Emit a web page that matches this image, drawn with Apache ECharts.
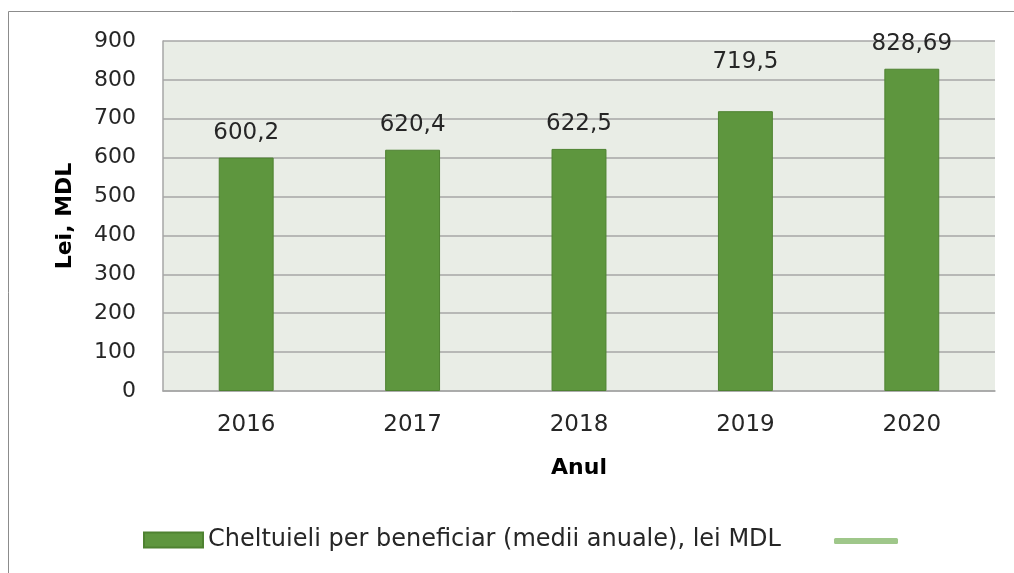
<!DOCTYPE html>
<html>
<head>
<meta charset="utf-8">
<script src="https://cdn.jsdelivr.net/npm/echarts@6/dist/echarts.min.js"></script>
<style>
  html, body { margin: 0; padding: 0; background: #fff; }
  #chart { width: 1014px; height: 573px; }
</style>
</head>
<body>
<div id="chart"></div>
<script>
// date
var years = ['2016', '2017', '2018', '2019', '2020'];
var valori = [600.2, 620.4, 622.5, 719.5, 828.69];
var yTicks = [0, 100, 200, 300, 400, 500, 600, 700, 800, 900];
var numeSerie = 'Cheltuieli per beneficiar (medii anuale), lei MDL';

var font = 'DejaVu Sans';
var textColor = '#262626';

var myChart = echarts.init(document.getElementById('chart'));

// eticheta pentru 2019 sta mai sus in original
var barData = valori.map(function (v, i) {
  var item = { value: v };
  if (i === 3) item.label = { distance: 38 };
  return item;
});

var option = {
  animation: false,
  backgroundColor: '#fff',
  graphic: [
    {
      type: 'rect',
      shape: { x: 8.5, y: 11.5, width: 1020, height: 600 },
      style: { fill: 'none', stroke: '#8c8c8c', lineWidth: 1 },
      silent: true
    }
  ],
  grid: {
    left: 163,
    top: 41,
    right: 19,
    bottom: 182,
    show: true,
    backgroundColor: '#e9ede6',
    borderWidth: 0
  },
  legend: [
    {
      data: [numeSerie],
      left: 138,
      top: 523,
      itemWidth: 59,
      itemHeight: 15,
      itemGap: 6,
      icon: 'rect',
      textStyle: { fontFamily: font, fontSize: 24, color: textColor }
    },
    {
      data: [{ name: ' ', icon: 'roundRect' }],
      left: 829,
      top: 524,
      itemWidth: 64,
      itemHeight: 6,
      textStyle: { fontFamily: font, fontSize: 24, color: textColor }
    }
  ],
  xAxis: {
    type: 'category',
    data: years,
    name: 'Anul',
    nameLocation: 'middle',
    nameGap: 66,
    nameTextStyle: { fontFamily: font, fontSize: 22, fontWeight: 'bold', color: '#000' },
    axisLine: { lineStyle: { color: '#a6a6a6', width: 1.5 } },
    axisTick: { show: false },
    axisLabel: { fontFamily: font, fontSize: 23, color: textColor, margin: 23 }
  },
  yAxis: {
    type: 'value',
    min: yTicks[0],
    max: yTicks[yTicks.length - 1],
    interval: 100,
    name: 'Lei, MDL',
    nameLocation: 'middle',
    nameGap: 87,
    nameRotate: 90,
    nameTextStyle: { fontFamily: font, fontSize: 22, fontWeight: 'bold', color: '#000' },
    axisLine: { show: true, lineStyle: { color: '#a6a6a6', width: 1.5 } },
    axisTick: { show: false },
    splitLine: { lineStyle: { color: '#a6a6a6', width: 1.5 } },
    axisLabel: { fontFamily: font, fontSize: 22, color: textColor, margin: 27 }
  },
  series: [
    {
      name: numeSerie,
      type: 'bar',
      data: barData,
      barWidth: '33%',
      itemStyle: { color: '#5e963e', borderColor: '#4e8231', borderWidth: 1 },
      label: {
        show: true,
        position: 'top',
        distance: 13,
        fontFamily: font,
        fontSize: 23,
        color: textColor,
        formatter: function (p) {
          return String(p.value).replace('.', ',');
        }
      }
    },
    {
      name: ' ',
      type: 'line',
      data: [],
      lineStyle: { color: '#9fc78a', width: 6 },
      itemStyle: { color: '#9fc78a' }
    }
  ]
};

myChart.setOption(option);
window.addEventListener('resize', function () {
  myChart.resize();
});
</script>
</body>
</html>
